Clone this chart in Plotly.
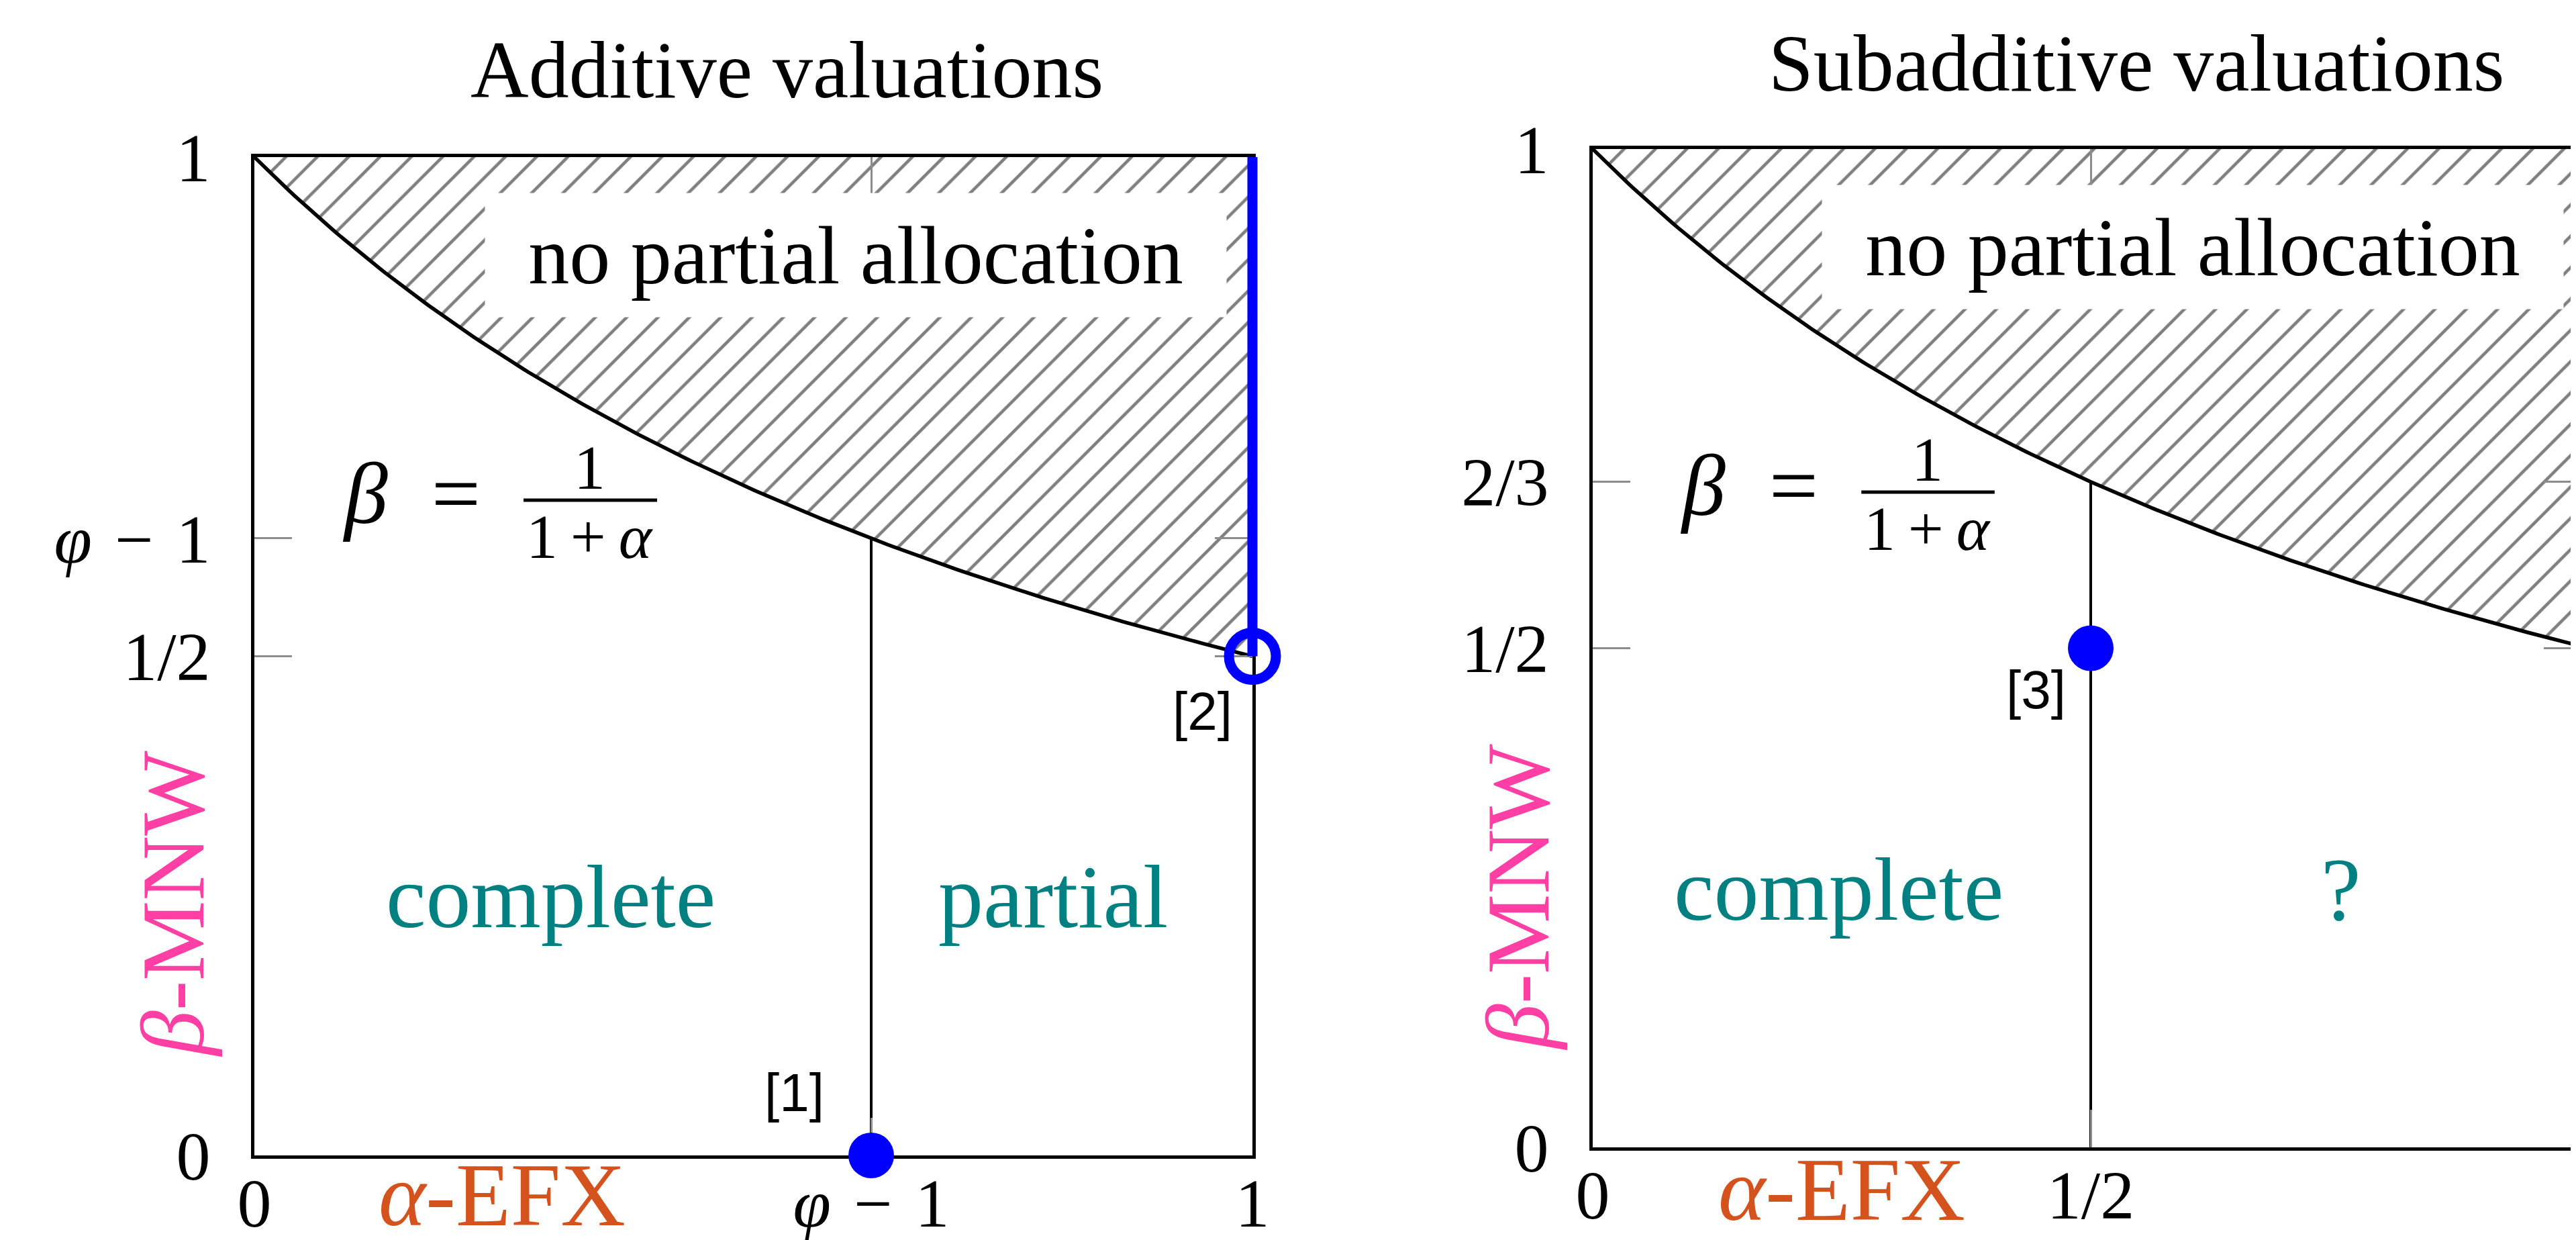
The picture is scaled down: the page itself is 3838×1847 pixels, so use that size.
import numpy as np
import plotly.graph_objects as go

# ---------------- data ----------------
PHI_MINUS_1 = (np.sqrt(5) - 1) / 2            # φ − 1

# boundary curve stated in the chart: β = 1/(1+α)
alpha_curve = np.linspace(0.0, 1.0, 201)
beta_curve = 1.0 / (1.0 + alpha_curve)

titles = ["Additive valuations", "Subadditive valuations"]

add_xtick_vals = [0.0, PHI_MINUS_1, 1.0]
add_xtick_text = ["0", "<i>φ</i>\u00a0\u200a−\u00a0\u200a1", "1"]
add_ytick_vals = [0.0, 0.5, PHI_MINUS_1, 1.0]
add_ytick_text = ["0", "1/2", "<i>φ</i>\u00a0\u200a−\u00a0\u200a1", "1"]

sub_xtick_vals = [0.0, 0.5, 1.0]
sub_xtick_text = ["0", "1/2", "1"]
sub_ytick_vals = [0.0, 0.5, 2 / 3, 1.0]
sub_ytick_text = ["0", "1/2", "2/3", "1"]

add_split_alpha = PHI_MINUS_1
sub_split_alpha = 0.5

add_solid_alpha, add_solid_beta = [PHI_MINUS_1], [0.0]      # [1]
add_open_alpha, add_open_beta = [1.0], [0.5]                # [2]
add_seg_alpha, add_seg_beta = [1.0, 1.0], [0.5, 1.0]
sub_solid_alpha, sub_solid_beta = [0.5], [0.5]              # [3]

# ---------------- geometry / style ----------------
W, H = 3838, 1847
ADD_BOX = (371, 1858, 226, 1713)      # left, right, top, bottom (px)
SUB_BOX = (2365, 3849, 214, 1701)
PAD = 60

SERIF = "Liberation Serif"
SANS = "Liberation Sans"
TEAL = "#008080"
PINK = "#FF3FA4"
ORANGE = "#D4521E"
BLUE = "#0000FF"
TICKGRAY = "#8c8c8c"


def xdom(box):
    l, r, t, b = box
    return [l / W, min(r, W) / W], [0.0, (min(r, W) - l) / (r - l)]


def ydom(box):
    l, r, t, b = box
    return [(H - b) / H, (H - t) / H], [0.0, 1.0]


def axis_style(vals, text, standoff, mirror):
    return dict(tickmode="array", tickvals=vals, ticktext=text, ticks="inside",
                ticklen=56, tickwidth=3, tickcolor=TICKGRAY, showline=True,
                linecolor="black", linewidth=5, mirror=mirror, showgrid=False,
                zeroline=False, ticklabelstandoff=standoff, fixedrange=True,
                tickfont=dict(family=SERIF, size=102, color="black"))


fig = go.Figure()

hatch = dict(shape="/", size=33, solidity=0.14, fgcolor="black",
             bgcolor="rgba(255,255,255,0)", fillmode="overlay")


def add_region(xa, ya, split_alpha):
    fig.add_trace(go.Scatter(
        x=list(alpha_curve) + [1.0, 0.0], y=list(beta_curve) + [1.0, 1.0],
        fill="toself", fillcolor="rgba(255,255,255,0)", fillpattern=hatch,
        mode="lines", line=dict(width=0), xaxis=xa, yaxis=ya, hoverinfo="skip"))
    fig.add_trace(go.Scatter(
        x=alpha_curve, y=beta_curve, mode="lines",
        line=dict(color="black", width=5.5), xaxis=xa, yaxis=ya, hoverinfo="skip"))
    fig.add_trace(go.Scatter(
        x=[split_alpha, split_alpha], y=[0.0, 1.0 / (1.0 + split_alpha)],
        mode="lines", line=dict(color="black", width=4), xaxis=xa, yaxis=ya,
        hoverinfo="skip"))


add_region("x", "y", add_split_alpha)
add_region("x2", "y2", sub_split_alpha)

# canvas overlay for the additive panel (same mapping, larger clip area)
fig.add_trace(go.Scatter(x=add_seg_alpha, y=add_seg_beta, mode="lines",
                         line=dict(color=BLUE, width=15), xaxis="x3", yaxis="y3"))
fig.add_trace(go.Scatter(x=add_open_alpha, y=add_open_beta, mode="markers",
                         marker=dict(symbol="circle-open", size=70, color=BLUE,
                                     line=dict(width=15, color=BLUE)),
                         cliponaxis=False, xaxis="x3", yaxis="y3"))
fig.add_trace(go.Scatter(x=add_solid_alpha, y=add_solid_beta, mode="markers",
                         marker=dict(symbol="circle", size=68, color=BLUE),
                         cliponaxis=False, xaxis="x3", yaxis="y3"))
fig.add_trace(go.Scatter(x=sub_solid_alpha, y=sub_solid_beta, mode="markers",
                         marker=dict(symbol="circle", size=68, color=BLUE),
                         cliponaxis=False, xaxis="x2", yaxis="y2"))
# helper trace for the mirrored right-hand ticks of the subadditive panel
fig.add_trace(go.Scatter(x=[None], y=[None], xaxis="x2", yaxis="y4", showlegend=False))

ax_dom, ax_rng = xdom(ADD_BOX)
ay_dom, ay_rng = ydom(ADD_BOX)
sx_dom, sx_rng = xdom(SUB_BOX)
sy_dom, sy_rng = ydom(SUB_BOX)

l, r, t, b = ADD_BOX
Lx, Ly = r - l, b - t
cx_dom = [(l - PAD) / W, (r + PAD) / W]
cx_rng = [-PAD / Lx, 1 + PAD / Lx]
cy_dom = [(H - b - PAD) / H, (H - t + PAD) / H]
cy_rng = [-PAD / Ly, 1 + PAD / Ly]

layout = dict(
    width=W, height=H, margin=dict(l=0, r=0, t=0, b=0, pad=0, autoexpand=False),
    paper_bgcolor="white", plot_bgcolor="rgba(0,0,0,0)", showlegend=False,
    xaxis=dict(domain=ax_dom, range=ax_rng, anchor="y",
               **axis_style(add_xtick_vals, add_xtick_text, -21, "ticks")),
    yaxis=dict(domain=ay_dom, range=ay_rng, anchor="x",
               **axis_style(add_ytick_vals, add_ytick_text, 40, "ticks")),
    xaxis2=dict(domain=sx_dom, range=sx_rng, anchor="y2",
                **axis_style(sub_xtick_vals, sub_xtick_text, -21, "ticks")),
    yaxis2=dict(domain=sy_dom, range=sy_rng, anchor="x2",
                **axis_style(sub_ytick_vals, sub_ytick_text, 40, False)),
    xaxis3=dict(domain=cx_dom, range=cx_rng, anchor="y3", visible=False, fixedrange=True),
    yaxis3=dict(domain=cy_dom, range=cy_rng, anchor="x3", visible=False, fixedrange=True),
    yaxis4=dict(overlaying="y2", anchor="x2", side="right", range=sy_rng,
                tickmode="array", tickvals=sub_ytick_vals, ticks="inside", ticklen=56,
                tickwidth=3, tickcolor=TICKGRAY, showticklabels=False, showline=False,
                showgrid=False, zeroline=False, fixedrange=True),
)
fig.update_layout(**layout)

ann = []
shapes = []


def txt(text, x, y, size, color="black", family=SERIF, xref="paper", yref="paper", **kw):
    d = dict(text=text, x=x, y=y, xref=xref, yref=yref, showarrow=False,
             font=dict(family=family, size=size, color=color),
             xanchor=kw.pop("xanchor", "center"), yanchor=kw.pop("yanchor", "middle"))
    d.update(kw)
    ann.append(d)


# titles and axis names (paper coordinates from pixel positions)
txt(titles[0], 1164 / W, 1 - 97 / H, 120)
txt(titles[1], 3175 / W, 1 - 86 / H, 120)
txt("<i>β</i>-MNW", 250 / W, 1 - 1339 / H, 134, PINK, textangle=-90)
txt("<i>β</i>-MNW", 2254 / W, 1 - 1329 / H, 134, PINK, textangle=-90)
txt("<i>α</i>-EFX", 740 / W, 1 - 1772 / H, 134, ORANGE)
txt("<i>α</i>-EFX", 2736 / W, 1 - 1764 / H, 134, ORANGE)

for xr, yr in (("x", "y"), ("x2", "y2")):
    txt("no partial allocation", 0.6025, 0.902, 122, xref=xr, yref=yr,
        width=1102, height=182, bgcolor="white")
    txt("<i>β</i>\u00a0\u00a0=", 0.228, 0.663, 130, xref=xr, yref=yr, xanchor="right")
    txt("1", 0.336, 0.689, 94, xref=xr, yref=yr)
    txt("1\u2009+\u2009<i>α</i>", 0.336, 0.620, 94, xref=xr, yref=yr)
    shapes.append(dict(type="line", xref=xr, yref=yr, x0=0.2697, x1=0.4035,
                       y0=0.6563, y1=0.6563, line=dict(color="black", width=5)))

txt("complete", 0.297, 0.259, 134, TEAL, xref="x", yref="y")
txt("partial", 0.800, 0.259, 134, TEAL, xref="x", yref="y")
txt("[1]", 0.541, 0.063, 80, family=SANS, xref="x", yref="y")
txt("[2]", 0.950, 0.445, 80, family=SANS, xref="x", yref="y")

txt("complete", 0.247, 0.258, 134, TEAL, xref="x2", yref="y2")
txt("?", 0.751, 0.258, 134, TEAL, xref="x2", yref="y2")
txt("[3]", 0.445, 0.458, 80, family=SANS, xref="x2", yref="y2")

fig.update_layout(annotations=ann, shapes=shapes)
fig.write_html("out.html")
